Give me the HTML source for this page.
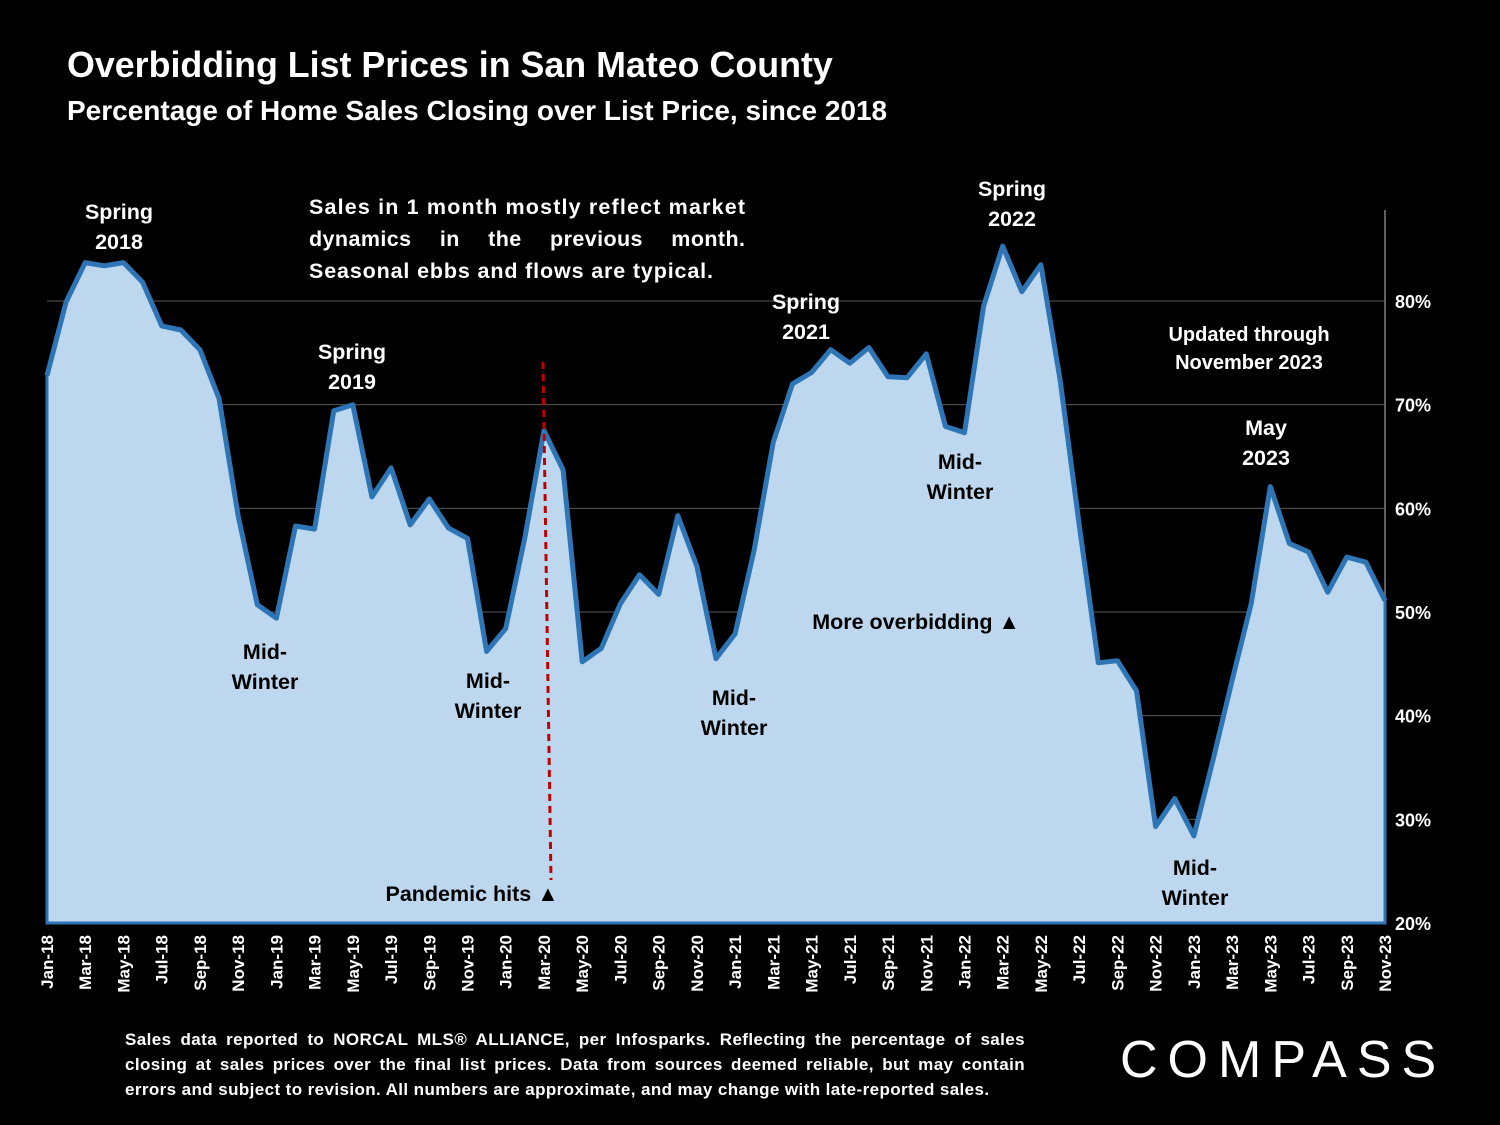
<!DOCTYPE html>
<html><head><meta charset="utf-8">
<style>
html,body{margin:0;padding:0;background:#000;}
body{width:1500px;height:1125px;overflow:hidden;font-family:"Liberation Sans",sans-serif;color:#fff;position:relative;}
.t{position:absolute;font-weight:bold;}
</style></head>
<body>
<div class="t" style="left:67px;top:45px;font-size:35.8px;">Overbidding List Prices in San Mateo County</div>
<div class="t" style="left:67px;top:95px;font-size:28px;">Percentage of Home Sales Closing over List Price, since 2018</div>
<svg id="chart" width="1500" height="1125" style="position:absolute;left:0;top:0;" xmlns="http://www.w3.org/2000/svg"></svg>
<div class="t" style="left:125px;top:1027px;width:900px;font-size:17px;letter-spacing:0.4px;line-height:25px;text-align:justify;text-align-last:left;">Sales data reported to NORCAL MLS® ALLIANCE, per Infosparks. Reflecting the percentage of sales closing at sales prices over the final list prices. Data from sources deemed reliable, but may contain errors and subject to revision. All numbers are approximate, and may change with late-reported sales.</div>
<div class="t" style="left:1120px;top:1030px;font-size:52px;font-weight:normal;letter-spacing:10px;">COMPASS</div>
<script>
const months=["Jan","Feb","Mar","Apr","May","Jun","Jul","Aug","Sep","Oct","Nov","Dec"];
const values=[72.8,79.9,83.7,83.4,83.7,81.8,77.6,77.2,75.3,70.6,59.3,50.7,
49.4,58.3,58.0,69.4,70.0,61.1,63.9,58.4,60.9,58.1,57.1,46.2,
48.4,57.2,67.5,63.7,45.2,46.5,50.8,53.6,51.7,59.3,54.4,45.5,
47.9,56.0,66.4,72.0,73.1,75.3,74.0,75.5,72.7,72.6,74.9,67.9,
67.3,79.5,85.3,80.9,83.5,72.4,58.4,45.1,45.3,42.4,29.3,32.0,
28.4,35.7,43.4,50.8,62.1,56.6,55.8,51.9,55.3,54.8,51.1];
const yTicks=[20,30,40,50,60,70,80];
const categories=values.map((v,i)=>months[i%12]+"-"+String(18+Math.floor(i/12)));
const svg=document.getElementById('chart');
const NS="http://www.w3.org/2000/svg";
const x0=47,x1=1385,yTop=210;
const xs=i=>x0+i*(x1-x0)/(values.length-1);
const ys=v=>923-(v-20)*(923-301)/60;
function mk(tag,attrs,txt){const e=document.createElementNS(NS,tag);for(const k in attrs)e.setAttribute(k,attrs[k]);if(txt!==undefined)e.textContent=txt;svg.appendChild(e);return e;}
yTicks.forEach(t=>{
  if(t>20){const g=mk('line',{x1:x0,x2:x1,y1:ys(t),y2:ys(t),stroke:'#595959','stroke-width':1});
  
  }
  const l=mk('text',{x:1395,y:ys(t)+7,fill:'#fff','font-size':18,'font-weight':'bold','font-family':'Liberation Sans'},t+'%');
  
  
});
const ax=mk('line',{x1:x1,x2:x1,y1:yTop,y2:923,stroke:'#7f7f7f','stroke-width':1.5});


let d='M'+x0+',923 ';values.forEach((v,i)=>{d+='L'+xs(i).toFixed(1)+','+ys(v).toFixed(1)+' ';});d+='L'+x1+',923 Z';
const area=mk('path',{d:d,fill:'#bdd7ee',stroke:'none'});


let ld='';values.forEach((v,i)=>{ld+=(i?'L':'M')+xs(i).toFixed(1)+','+ys(v).toFixed(1)+' ';});
const line=mk('path',{d:ld,fill:'none',stroke:'#2e75b6','stroke-width':5,'stroke-linejoin':'round'});


const base=mk('path',{d:'M'+x0+','+ys(values[0])+' L'+x0+',923 L'+x1+',923 L'+x1+','+ys(values[values.length-1]),fill:'none',stroke:'#2e75b6','stroke-width':3});


categories.forEach((c,i)=>{if(i%2)return;
  const x=xs(i);
  const t=mk('text',{x:0,y:0,fill:'#fff','font-size':17,'font-weight':'bold','font-family':'Liberation Sans','text-anchor':'end',transform:'translate('+(x+6)+',935) rotate(-90)'},c);
  
  
});
const pl=mk('line',{x1:543,y1:362,x2:551,y2:880,stroke:'#c00000','stroke-width':3,'stroke-dasharray':'7,5'});


const notes=[["Spring|2018",119,219,1],["Spring|2019",352,359,1],["Mid-|Winter",265,659,0],["Mid-|Winter",488,688,0],["Fall|2020",680,466,0],["Mid-|Winter",734,705,0],["Spring|2021",806,309,1],["Spring|2022",1012,196,1],["Mid-|Winter",960,469,0],["May|2023",1266,435,1],["Mid-|Winter",1195,875,0],["Updated through|November 2023",1249,341,1],["Pandemic hits ▲",472,901,0],["More overbidding ▲",916,629,0]];
notes.forEach(n=>{const parts=n[0].split('|');const small=parts[0].startsWith('Updated');
  parts.forEach((p,k)=>{const t=mk('text',{x:n[1],y:n[2]+k*(small?28:30),fill:n[3]?'#fff':'#000','font-size':small?20:21.5,'font-weight':'bold','font-family':'Liberation Sans','text-anchor':'middle'},p);
  
  });
});
const box=["Sales in 1 month mostly reflect market","dynamics in the previous month.","Seasonal ebbs and flows are typical."];
const boxLen=[436,436,404];
box.forEach((s,k)=>{const a={x:309,y:214+k*32,fill:'#fff','font-size':21.5,'font-weight':'bold','font-family':'Liberation Sans',textLength:boxLen[k],lengthAdjust:'spacing'};
  if(k==1)a['word-spacing']='22';
  const t=mk('text',a,s);
  
  });
</script>
</body></html>
